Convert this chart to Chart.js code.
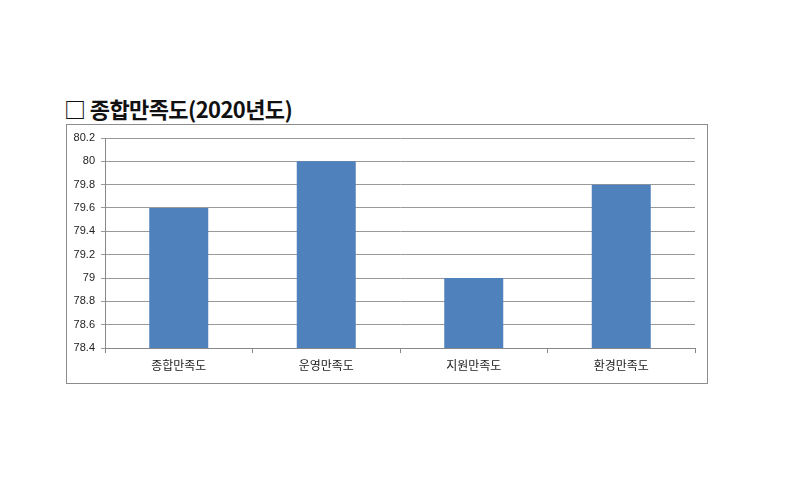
<!DOCTYPE html>
<html>
<head>
<meta charset="utf-8">
<script src="https://cdn.jsdelivr.net/npm/chart.js@4"></script>
<style>
  body { margin: 0; background: #fff; width: 800px; height: 500px; position: relative; }
  #title { position: absolute; left: 64px; top: 92px; font-family: "Noto Sans CJK KR"; font-weight: bold; font-size: 22px; color: #111; letter-spacing: -0.6px; }
  #box { position: absolute; left: 66px; top: 124px; width: 640px; height: 258px; border: 1px solid #8c8c8c; }
</style>
</head>
<body>
<div id="title">□ 종합만족도(2020년도)</div>
<div id="box"><canvas id="chart"></canvas></div>
<script>
const categories = ["종합만족도", "운영만족도", "지원만족도", "환경만족도"];
const scores = [79.6, 80, 79, 79.8];
const yMin = 78.4, yMax = 80.2, yStep = 0.2;

new Chart(document.getElementById("chart"), {
  type: "bar",
  data: {
    labels: categories,
    datasets: [{
      data: scores,
      backgroundColor: "#4f81bd",
      categoryPercentage: 1,
      barPercentage: 0.4
    }]
  },
  options: {
    responsive: true,
    maintainAspectRatio: false,
    animation: false,
    layout: { padding: { top: 13, right: 12, left: 0, bottom: 0 } },
    plugins: { legend: { display: false }, tooltip: { enabled: false } },
    scales: {
      x: {
        grid: { offset: true, drawOnChartArea: false, tickLength: 5, color: "#888" },
        border: { color: "#888" },
        ticks: { color: "#222", font: { family: "'Noto Sans CJK KR'", size: 12 }, padding: 5 },
        afterFit: (s) => { s.height = 35; }
      },
      y: {
        min: yMin,
        max: yMax,
        ticks: {
          stepSize: yStep,
          color: "#222",
          padding: 6,
          font: { family: "'Liberation Sans'", size: 11 },
          callback: (v) => String(Number(v.toFixed(1)))
        },
        grid: { color: "#999", tickLength: 4 },
        border: { color: "#888" },
        afterFit: (s) => { s.width = 38; }
      }
    }
  }
});
</script>
</body>
</html>
